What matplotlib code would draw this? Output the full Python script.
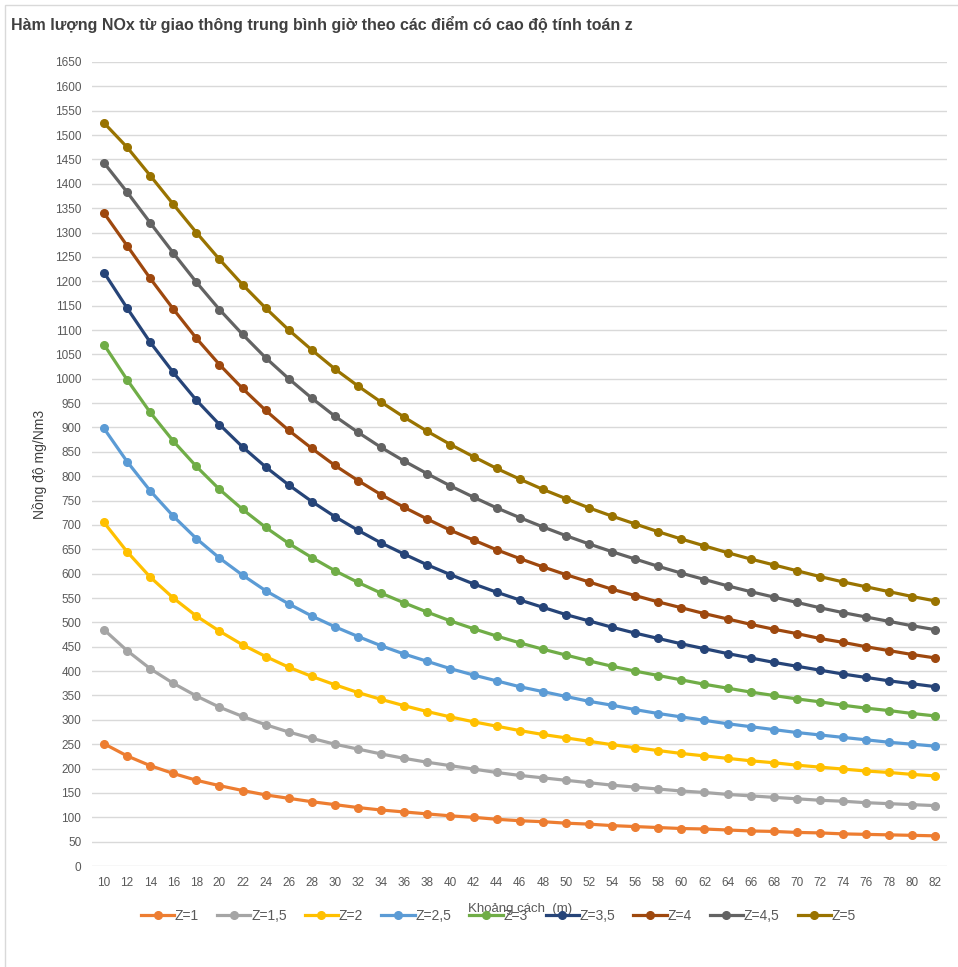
import matplotlib
matplotlib.use("Agg")
import matplotlib.pyplot as plt
from matplotlib.patches import Rectangle

# Distances (m)
distance = list(range(10, 84, 2))

# NOx concentration per height z
z1 = [251, 226, 206, 190, 176, 165, 155, 146, 139, 132, 126, 120, 115, 111, 107, 103, 100, 96, 93,
      91, 88, 86, 83, 81, 79, 77, 76, 74, 72, 71, 69, 68, 66, 65, 64, 63, 62]
z1_5 = [485, 442, 405, 375, 349, 326, 307, 290, 275, 262, 250, 240, 230, 221, 213, 206, 199, 192, 186,
        181, 176, 171, 166, 162, 158, 154, 151, 147, 144, 141, 138, 135, 133, 130, 128, 126, 124]
z2 = [705, 645, 593, 550, 513, 482, 454, 430, 408, 389, 372, 356, 342, 329, 317, 306, 296, 287, 278,
      270, 263, 256, 249, 243, 237, 231, 226, 221, 216, 212, 207, 203, 199, 195, 192, 188, 185]
z2_5 = [898, 830, 770, 718, 672, 632, 597, 565, 538, 513, 491, 471, 452, 435, 420, 405, 392, 380, 368,
        358, 348, 338, 330, 321, 313, 306, 299, 292, 286, 280, 274, 269, 264, 259, 254, 250, 246]
z3 = [1070, 998, 931, 872, 820, 773, 732, 695, 662, 633, 606, 582, 560, 540, 521, 503, 487, 472, 458,
      445, 433, 421, 410, 400, 391, 382, 373, 365, 357, 350, 343, 337, 330, 324, 319, 313, 308]
z3_5 = [1218, 1145, 1075, 1013, 956, 906, 860, 819, 782, 748, 717, 689, 663, 640, 618, 598, 579, 562, 546,
        531, 516, 503, 490, 478, 467, 456, 446, 436, 427, 418, 410, 402, 394, 387, 380, 374, 368]
z4 = [1340, 1273, 1206, 1143, 1083, 1029, 980, 935, 894, 857, 822, 791, 762, 736, 712, 689, 669, 649, 631,
      614, 598, 583, 568, 555, 542, 530, 518, 507, 496, 486, 477, 467, 459, 450, 442, 434, 427]
z4_5 = [1443, 1383, 1320, 1258, 1198, 1142, 1091, 1043, 1000, 960, 923, 890, 859, 831, 805, 780, 757, 735, 715,
        696, 678, 661, 645, 630, 615, 601, 588, 575, 563, 552, 541, 530, 520, 511, 502, 493, 485]
z5 = [1525, 1475, 1417, 1358, 1300, 1245, 1193, 1145, 1100, 1059, 1020, 985, 952, 921, 892, 865, 840, 816, 794,
      773, 754, 735, 718, 702, 686, 671, 657, 643, 630, 618, 606, 594, 583, 573, 563, 553, 544]

labels = ["Z=1", "Z=1,5", "Z=2", "Z=2,5", "Z=3", "Z=3,5", "Z=4", "Z=4,5", "Z=5"]
series = [z1, z1_5, z2, z2_5, z3, z3_5, z4, z4_5, z5]
colors = ["#ED7D31", "#A5A5A5", "#FFC000", "#5B9BD5", "#70AD47",
          "#264478", "#9E480E", "#636363", "#997300"]

plt.rcParams['font.family'] = ['Liberation Sans', 'DejaVu Sans']

fig = plt.figure(figsize=(9.58, 9.67), dpi=100)
ax = fig.add_axes([0.0965, 0.1044, 0.892, 0.8315])

for vals, lab, col in zip(series, labels, colors):
    ax.plot(distance, vals, color=col, lw=2.3, marker='o', ms=5.5, label=lab)

ax.set_xlim(9, 83)
ax.set_ylim(0, 1650)
ax.set_xticks(distance)
ax.set_yticks(range(0, 1651, 50))
ax.tick_params(length=0, labelsize=8.5, colors="#595959", pad=8)
ax.grid(axis='y', color="#d9d9d9", lw=1)
ax.set_axisbelow(True)
for s in ax.spines.values():
    s.set_visible(False)

ax.set_ylabel("Nồng độ mg/Nm3", fontsize=10, color="#404040", labelpad=6)
ax.set_xlabel("Khoảng cách  (m)", fontsize=9.5, color="#595959", labelpad=10)

leg = ax.legend(loc='upper center', bbox_to_anchor=(0.475, -0.038), ncol=9, frameon=False,
                fontsize=10, handlelength=2.4, columnspacing=1.3, handletextpad=0.05)
for t in leg.get_texts():
    t.set_color("#595959")

fig.text(0.011, 0.975, "Hàm lượng NOx từ giao thông trung bình giờ theo các điểm có cao độ tính toán z",
         fontsize=11.5, fontweight='bold', color="#404040", va='center', ha='left')

fig.patches.append(Rectangle((0.005, -0.01), 0.999, 1.005, transform=fig.transFigure,
                             fill=False, edgecolor="#d9d9d9", lw=1))

fig.savefig("out.png", dpi=100)
plt.close(fig)
